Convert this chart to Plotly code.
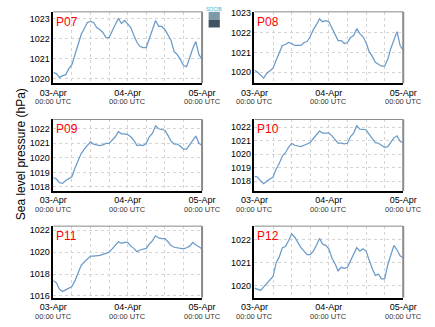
import pandas as pd
import plotly.graph_objects as go

times = pd.date_range("2013-04-03 00:00", periods=49, freq="h")
tick_dates = ["2013-04-03", "2013-04-04", "2013-04-05"]
tick_labels = ["03-Apr", "04-Apr", "05-Apr"]
tick_sublabel = "00:00 UTC"

p07 = [1020.3, 1020.25, 1020.05, 1020.15, 1020.2, 1020.5, 1020.7, 1021.2, 1021.7, 1022.2,
       1022.5, 1022.8, 1022.85, 1022.8, 1022.55, 1022.45, 1022.3, 1022.05, 1022.05, 1022.4,
       1022.7, 1023.0, 1022.75, 1022.9, 1022.75, 1022.55, 1022.15, 1021.8, 1021.6, 1021.55,
       1021.55, 1022.0, 1022.5, 1022.9, 1022.6, 1022.6, 1022.45, 1022.2, 1021.9, 1021.35,
       1021.2, 1020.95, 1020.65, 1020.6, 1021.1, 1021.5, 1021.85, 1021.2, 1020.95]
p08 = [1020.1, 1020.0, 1019.85, 1019.7, 1019.95, 1020.1, 1020.2, 1020.6, 1020.95, 1021.35,
       1021.4, 1021.5, 1021.45, 1021.35, 1021.35, 1021.35, 1021.5, 1021.55, 1021.8, 1022.15,
       1022.4, 1022.7, 1022.55, 1022.6, 1022.55, 1022.25, 1021.9, 1021.6, 1021.6, 1021.45,
       1021.5, 1021.75, 1021.85, 1022.2, 1021.95, 1021.8, 1021.5, 1021.05, 1020.8, 1020.5,
       1020.4, 1020.3, 1020.3, 1020.65, 1021.2, 1021.6, 1022.05, 1021.35, 1021.1]
p09 = [1018.65, 1018.55, 1018.3, 1018.25, 1018.45, 1018.55, 1018.7, 1019.3, 1019.75, 1020.3,
       1020.6, 1020.85, 1021.1, 1020.95, 1020.9, 1020.85, 1020.9, 1021.0, 1021.0, 1021.2,
       1021.45, 1021.8, 1021.65, 1021.65, 1021.6, 1021.45, 1021.2, 1020.85, 1020.9, 1020.85,
       1021.0, 1021.45, 1021.7, 1022.2, 1022.0, 1021.95, 1021.9, 1021.55, 1021.15, 1020.95,
       1020.95, 1020.8, 1020.6, 1020.6, 1020.9, 1021.2, 1021.5, 1021.0, 1020.85]
p10 = [1018.35, 1018.3, 1018.0, 1017.8, 1018.0, 1018.15, 1018.3, 1018.9, 1019.3, 1019.85,
       1020.1, 1020.5, 1020.8, 1020.65, 1020.6, 1020.55, 1020.65, 1020.75, 1020.85, 1021.15,
       1021.4, 1021.7, 1021.55, 1021.55, 1021.55, 1021.35, 1021.1, 1020.8, 1020.8, 1020.75,
       1020.8, 1021.3, 1021.55, 1022.1, 1021.85, 1021.85, 1021.8, 1021.45, 1021.1, 1020.85,
       1020.8, 1020.65, 1020.5, 1020.55, 1020.85, 1021.2, 1021.35, 1020.95, 1020.85]
p11 = [1017.4, 1017.2, 1016.6, 1016.4, 1016.55, 1016.7, 1016.85, 1017.4, 1018.1, 1018.8,
       1019.1, 1019.35, 1019.65, 1019.65, 1019.65, 1019.7, 1019.8, 1019.9, 1020.0, 1020.3,
       1020.6, 1020.95, 1020.8, 1020.9, 1020.9, 1020.55, 1020.35, 1020.05, 1020.2, 1020.25,
       1020.35, 1020.75, 1021.05, 1021.5, 1021.3, 1021.25, 1021.25, 1020.95, 1020.6, 1020.45,
       1020.4, 1020.35, 1020.3, 1020.4, 1020.55, 1020.9, 1020.65, 1020.5, 1020.3]
p12 = [1019.9, 1019.85, 1019.8, 1019.95, 1020.1, 1020.25, 1020.4, 1021.0, 1021.25, 1021.65,
       1021.7, 1021.95, 1022.25, 1022.1, 1021.85, 1021.65, 1021.5, 1021.35, 1021.35, 1021.5,
       1021.75, 1022.05, 1021.8, 1021.75, 1021.6, 1021.2, 1020.95, 1020.65, 1020.8, 1020.75,
       1020.8, 1021.1, 1021.35, 1021.65, 1021.5, 1021.6, 1021.5, 1021.1, 1020.75, 1020.45,
       1020.5, 1020.3, 1020.3, 1020.9, 1021.35, 1021.75, 1021.55, 1021.3, 1021.2]

stations = ["P07", "P08", "P09", "P10", "P11", "P12"]
series = [p07, p08, p09, p10, p11, p12]
yticks = [[1020, 1021, 1022, 1023], [1020, 1021, 1022, 1023],
          [1018, 1019, 1020, 1021, 1022], [1018, 1019, 1020, 1021, 1022],
          [1016, 1018, 1020, 1022], [1020, 1021, 1022]]
yranges = [[1019.77, 1023.33], [1019.44, 1023.05],
           [1017.73, 1022.64], [1017.27, 1022.56],
           [1015.85, 1022.38], [1019.49, 1022.58]]

W, H = 435, 327
cols = [(42, 201), (257, 416)]
rows = [(8, 81), (118, 191), (227, 300)]
FONT = "Liberation Sans"
GRID = "#d4d4d4"

fig = go.Figure()

for i, (name, vals) in enumerate(zip(stations, series)):
    r, c = divmod(i, 2)
    n = i + 1
    xa = "xaxis" if n == 1 else f"xaxis{n}"
    ya = "yaxis" if n == 1 else f"yaxis{n}"
    xref = "x" if n == 1 else f"x{n}"
    yref = "y" if n == 1 else f"y{n}"
    x0, x1 = cols[c]
    top, bot = rows[r]
    fig.add_trace(go.Scatter(x=times, y=vals, mode="lines", xaxis=xref, yaxis=yref,
                             line=dict(color="#6a9ac8", width=1.25), showlegend=False,
                             hoverinfo="skip"))
    fig.layout[xa] = dict(
        domain=[x0 / W, x1 / W], anchor=yref, type="date",
        range=["2013-04-03 00:00", "2013-04-05 00:00"],
        tickvals=tick_dates, ticktext=tick_labels, tickangle=0,
        ticks="", showline=True, linecolor="black", linewidth=1.5,
        showgrid=True, gridcolor=GRID, griddash="dot", gridwidth=1,
        minor=dict(dtick=6 * 3600 * 1000, showgrid=True, gridcolor=GRID,
                   griddash="dot", gridwidth=1),
        tickfont=dict(size=9, color="black", family=FONT),
        zeroline=False, fixedrange=True,
    )
    fig.layout[ya] = dict(
        domain=[1 - bot / H, 1 - top / H], anchor=xref,
        range=yranges[i], tickvals=yticks[i], ticks="",
        showline=True, linecolor="black", linewidth=1.5,
        showgrid=True, gridcolor=GRID, griddash="dot", gridwidth=1,
        tickfont=dict(size=9, color="black", family=FONT),
        zeroline=False, fixedrange=True,
    )
    # top and right frame
    fig.add_shape(type="line", xref=f"{xref} domain", yref=f"{yref} domain",
                  x0=0, x1=1, y0=1, y1=1, line=dict(color="#8a8a8a", width=1))
    fig.add_shape(type="line", xref=f"{xref} domain", yref=f"{yref} domain",
                  x0=1, x1=1, y0=0, y1=1, line=dict(color="#8a8a8a", width=2))
    fig.add_annotation(text=name, xref=f"{xref} domain", yref=f"{yref} domain",
                       x=0.0, y=1.0, xanchor="left", yanchor="top", showarrow=False,
                       yshift=-1, xshift=1,
                       font=dict(size=12, color="red", family=FONT))
    for td in tick_dates:
        fig.add_annotation(text=tick_sublabel, xref=xref, yref=f"{yref} domain",
                           x=td, y=0, yshift=-18.5, xanchor="center", yanchor="middle",
                           showarrow=False, borderpad=0,
                           font=dict(size=7.5, color="#333333", family=FONT))

fig.add_annotation(text="Sea level pressure (hPa)", xref="paper", yref="paper",
                   x=7 / W, y=1 - 154 / H, textangle=-90, showarrow=False,
                   xanchor="center", yanchor="middle",
                   font=dict(size=12, color="black", family=FONT))

# logo
fig.add_shape(type="rect", xref="paper", yref="paper", x0=208 / W, x1=220 / W,
              y0=1 - 16 / H, y1=1 - 8 / H, line=dict(width=0), fillcolor="#7b9aa8")
fig.add_shape(type="rect", xref="paper", yref="paper", x0=208 / W, x1=220 / W,
              y0=1 - 24 / H, y1=1 - 16 / H, line=dict(width=0), fillcolor="#3f5360")
fig.add_annotation(text="SOCIB", xref="paper", yref="paper", x=214 / W, y=1 - 1 / H,
                   showarrow=False, xanchor="center", yanchor="top", borderpad=0,
                   font=dict(size=5, color="#2fb3d3", family=FONT))

fig.update_layout(width=W, height=H, margin=dict(l=0, r=0, t=0, b=0),
                  paper_bgcolor="white", plot_bgcolor="white",
                  font=dict(family=FONT))
fig.write_html("out.html", config={"displayModeBar": False})
